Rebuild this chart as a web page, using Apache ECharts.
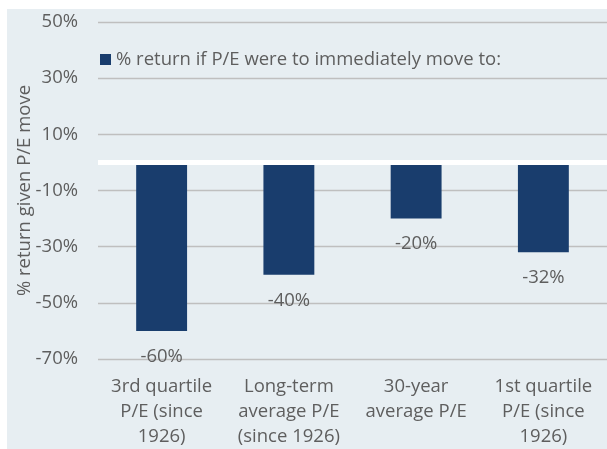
<!DOCTYPE html>
<html>
<head>
<meta charset="utf-8">
<script src="https://cdn.jsdelivr.net/npm/echarts@6/dist/echarts.min.js"></script>
<style>
html,body{margin:0;padding:0;background:#ffffff;}
#chart{width:607px;height:449px;}
</style>
</head>
<body>
<div id="chart"></div>
<script>
const categories = ["3rd quartile\nP/E (since\n1926)", "Long-term\naverage P/E\n(since 1926)", "30-year\naverage P/E", "1st quartile\nP/E (since\n1926)"];
const seriesName = "% return if P/E were to immediately move to:";
const returns = [-60, -40, -20, -32];
const yMin = -70, yMax = 50, yLabelStep = 20;
const yAxisName = "% return given P/E move";

const FONT = "Open Sans";
const FS = 18.5;
const TXT = "#5E5E5E";
const chart = echarts.init(document.getElementById('chart'), null, {renderer:'canvas'});
chart.setOption({
  animation: false,
  backgroundColor: '#ffffff',
  textStyle: {fontFamily: FONT},
  graphic: [{type:'rect', left:7, top:9, z:-10, silent:true, shape:{width:600, height:440}, style:{fill:'#E7EEF2'}}],
  legend: {
    left: 95, top: 45, itemWidth: 11, itemHeight: 11, itemGap: 5,
    icon: 'rect',
    textStyle: {color: TXT, fontSize: FS, fontFamily: FONT},
    data: [seriesName]
  },
  grid: {left: 98, right: 0, top: 22, bottom: 89, containLabel: false},
  xAxis: {
    type: 'category', data: categories,
    axisLine: {show: false}, axisTick: {show: false},
    axisLabel: {color: TXT, fontSize: FS, fontFamily: FONT, lineHeight: 25, margin: 15, interval: 0}
  },
  yAxis: {
    type: 'value', min: yMin, max: yMax, interval: 10,
    name: yAxisName, nameLocation: 'middle', nameGap: 64, nameRotate: 90, nameMoveOverlap: false,
    nameTextStyle: {color: TXT, fontSize: FS, fontFamily: FONT},
    axisLine: {show: false}, axisTick: {show: false},
    axisLabel: {color: TXT, fontSize: FS, fontFamily: FONT, margin: 20,
      formatter: function(v){ return ((Math.round(v) - yMin) % yLabelStep === 0) ? Math.round(v) + '%' : ''; }},
    splitLine: {show: true, lineStyle: {color: ['#BFBFBF', 'rgba(0,0,0,0)'], width: 1.3}}
  },
  series: [{
    name: seriesName, type: 'bar', data: returns, barWidth: '40%',
    itemStyle: {color: '#193D6D'},
    label: {show: true, position: 'bottom', distance: 16, color: TXT, fontSize: FS, fontFamily: FONT,
      formatter: function(p){ return Math.round(p.value) + '%'; }},
    markLine: {silent: true, symbol: 'none', label: {show: false},
      lineStyle: {color: '#ffffff', width: 5, type: 'solid'},
      data: [{yAxis: 0}]}
  }]
});
</script>
</body>
</html>
